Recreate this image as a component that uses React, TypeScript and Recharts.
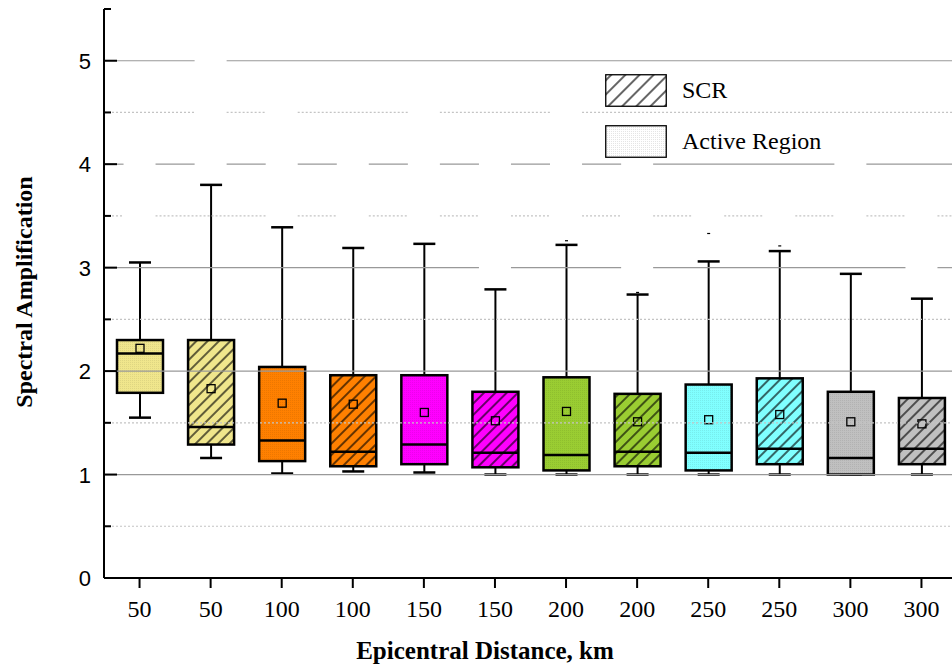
import { ComposedChart, Bar, XAxis, YAxis, ReferenceLine, Legend } from 'recharts';

// Box plot: spectral amplification vs epicentral distance, SCR vs active region
const distances = ['50', '50', '100', '100', '150', '150', '200', '200', '250', '250', '300', '300'];
const regions = ['Active Region', 'SCR', 'Active Region', 'SCR', 'Active Region', 'SCR',
  'Active Region', 'SCR', 'Active Region', 'SCR', 'Active Region', 'SCR'];
const fillColors = ['#F0E68C', '#F0E68C', '#FF8000', '#FF8000', '#FF00FF', '#FF00FF',
  '#9ACD32', '#9ACD32', '#80FFFF', '#80FFFF', '#C0C0C0', '#C0C0C0'];

const lowerWhisker = [1.55, 1.16, 1.01, 1.03, 1.02, 1.0, 1.0, 1.0, 1.0, 1.0, 1.0, 1.0];
const lowerQuartile = [1.79, 1.29, 1.13, 1.08, 1.1, 1.07, 1.04, 1.08, 1.04, 1.1, 1.0, 1.1];
const medians = [2.17, 1.46, 1.33, 1.22, 1.29, 1.21, 1.19, 1.22, 1.21, 1.25, 1.16, 1.25];
const upperQuartile = [2.3, 2.3, 2.04, 1.96, 1.96, 1.8, 1.94, 1.78, 1.87, 1.93, 1.8, 1.74];
const upperWhisker = [3.05, 3.8, 3.39, 3.19, 3.23, 2.79, 3.22, 2.74, 3.06, 3.16, 2.94, 2.7];
const means = [2.22, 1.83, 1.69, 1.68, 1.6, 1.52, 1.61, 1.51, 1.53, 1.58, 1.51, 1.49];
// tiny max markers that show above a few whiskers
const maxMarks: (number | null)[] = [null, null, null, null, null, null, 3.26, 2.76, 3.33, 3.21, null, null];

const yTicks = [0, 0.5, 1, 1.5, 2, 2.5, 3, 3.5, 4, 4.5, 5, 5.5];
const majorGrid = [1, 2, 3, 4, 5];
const minorGrid = [0.5, 1.5, 2.5, 3.5, 4.5];
// gridlines are broken behind some of the boxes (index of the box column)
const gridGaps: Record<string, number[]> = {
  '5': [1],
  '4.5': [1, 2, 4, 6],
  '4': [0, 1, 2, 3, 4, 5, 6, 7, 10],
  '3.5': [0, 2, 3, 4, 5, 6, 7, 8, 9, 10, 11],
  '3': [5, 7, 11],
};
const legendItems = ['SCR', 'Active Region'];

const SERIF = '"Liberation Serif", "Times New Roman", serif';
const SANS = '"Liberation Sans", Arial, sans-serif';

const data = distances.map((d, i) => ({
  key: i,
  distance: d,
  scr: regions[i] === 'SCR',
  color: fillColors[i],
  range: [lowerWhisker[i], upperWhisker[i]],
  q1: lowerQuartile[i],
  median: medians[i],
  q3: upperQuartile[i],
  mean: means[i],
  mark: maxMarks[i],
}));

function BoxShape(props: any) {
  const { x, y, width, height, payload, index } = props;
  const [lo, hi] = payload.range;
  const top = Math.min(y, y + height);
  const span = Math.abs(height);
  const py = (v: number) => top + (span * (hi - v)) / (hi - lo);
  const cx = x + width / 2;
  const boxTop = py(payload.q3);
  const boxBottom = py(payload.q1);
  const patId = `box-pat-${index}`;
  return (
    <g>
      <defs>
        {payload.scr ? (
          <pattern id={patId} width={8} height={8} patternUnits="userSpaceOnUse" patternTransform="rotate(45)">
            <line x1={4} y1={0} x2={4} y2={8} stroke="#000" strokeWidth={1.2} />
          </pattern>
        ) : (
          <pattern id={patId} width={2} height={2} patternUnits="userSpaceOnUse">
            <rect width={1} height={1} fill="#000" fillOpacity={0.07} />
          </pattern>
        )}
      </defs>
      <line x1={cx} x2={cx} y1={py(hi)} y2={boxTop} stroke="#000" strokeWidth={2} />
      <line x1={cx} x2={cx} y1={boxBottom} y2={py(lo)} stroke="#000" strokeWidth={2} />
      <line x1={cx - 11} x2={cx + 11} y1={py(hi)} y2={py(hi)} stroke="#000" strokeWidth={2.5} />
      <line x1={cx - 11} x2={cx + 11} y1={py(lo)} y2={py(lo)} stroke="#000" strokeWidth={2.5} />
      <rect x={x} y={boxTop} width={width} height={boxBottom - boxTop} fill={payload.color} />
      <rect x={x} y={boxTop} width={width} height={boxBottom - boxTop}
        fill={`url(#${patId})`} stroke="#000" strokeWidth={2.5} />
      <line x1={x} x2={x + width} y1={py(payload.median)} y2={py(payload.median)} stroke="#000" strokeWidth={2.5} />
      <rect x={cx - 4} y={py(payload.mean) - 4} width={8} height={8} fill="none" stroke="#000" strokeWidth={1.3} />
      {payload.mark != null && (
        <line x1={cx - 1.5} x2={cx + 1.5} y1={py(payload.mark)} y2={py(payload.mark)} stroke="#000" strokeWidth={1.2} />
      )}
    </g>
  );
}

const gridShape = (gaps: number[], stroke: string, dash?: string) => (p: any) => {
  const { x1, x2, y1 } = p;
  const band = (x2 - x1) / distances.length;
  const half = 16;
  const segs: [number, number][] = [];
  let start = x1;
  gaps.forEach((g) => {
    const c = x1 + band * (g + 0.5);
    segs.push([start, c - half]);
    start = c + half;
  });
  segs.push([start, x2]);
  return (
    <g>
      {segs.map(([a, b], k) => (
        <line key={k} x1={a} x2={b} y1={y1} y2={y1} stroke={stroke} strokeWidth={1.2} strokeDasharray={dash} />
      ))}
    </g>
  );
};

function YTick(props: any) {
  const { x, y, payload } = props;
  const v = payload.value;
  const major = Number.isInteger(v) && v <= 5;
  const ax = x + 13;
  return (
    <g>
      <line x1={ax} x2={ax + (major ? 13 : 7)} y1={y} y2={y} stroke="#000" strokeWidth={2} />
      {major && (
        <text x={x} y={y} dy={8} textAnchor="end" fontFamily={SANS} fontSize={22} fill="#000">{v}</text>
      )}
    </g>
  );
}

function XTick(props: any) {
  const { x, y, payload } = props;
  return (
    <text x={x} y={y} dy={27} textAnchor="middle" fontFamily={SERIF} fontSize={24} fill="#000">
      {distances[payload.value]}
    </text>
  );
}

function LegendContent() {
  return (
    <div style={{ fontFamily: SERIF, fontSize: 24, color: '#000' }}>
      {legendItems.map((item, i) => (
        <div key={item} style={{ display: 'flex', alignItems: 'center', height: 33, marginBottom: i === 0 ? 18 : 0 }}>
          <svg width={62} height={33}>
            <defs>
              <pattern id="lg-hatch" width={10} height={10} patternUnits="userSpaceOnUse" patternTransform="rotate(45)">
                <line x1={5} y1={0} x2={5} y2={10} stroke="#000" strokeWidth={1.2} />
              </pattern>
              <pattern id="lg-dots" width={2} height={2} patternUnits="userSpaceOnUse">
                <rect width={1} height={1} fill="#000" fillOpacity={0.1} />
              </pattern>
            </defs>
            <rect x={0.75} y={0.75} width={60.5} height={31.5} fill="#fff" />
            <rect x={0.75} y={0.75} width={60.5} height={31.5}
              fill={item === 'SCR' ? 'url(#lg-hatch)' : 'url(#lg-dots)'} stroke="#000" strokeWidth={1.3} />
          </svg>
          <span style={{ marginLeft: 15 }}>{item}</span>
        </div>
      ))}
    </div>
  );
}

export default function App() {
  return (
    <div style={{ position: 'absolute', left: 0, top: 0, width: 952, height: 668, overflow: 'hidden', background: '#fff' }}>
      <ComposedChart width={960} height={668} data={data} margin={{ top: 9, right: 3, bottom: 0, left: 0 }}>
        {minorGrid.map((v) => (
          <ReferenceLine key={`mn-${v}`} y={v} shape={gridShape(gridGaps[String(v)] ?? [], '#c4c4c4', '2 2')} />
        ))}
        {majorGrid.map((v) => (
          <ReferenceLine key={`mj-${v}`} y={v} shape={gridShape(gridGaps[String(v)] ?? [], '#999')} />
        ))}
        <XAxis
          dataKey="key"
          type="category"
          height={90}
          tick={<XTick />}
          tickSize={10}
          tickMargin={2}
          tickLine={{ stroke: '#000', strokeWidth: 2 }}
          axisLine={{ stroke: '#000', strokeWidth: 2 }}
          interval={0}
          label={{
            content: () => (
              <text x={485} y={659} textAnchor="middle" fontFamily={SERIF} fontWeight="bold" fontSize={25} fill="#000">
                Epicentral Distance, km
              </text>
            ),
          }}
        />
        <YAxis
          type="number"
          domain={[0, 5.5]}
          ticks={yTicks}
          width={104}
          interval={0}
          tickSize={0}
          tickMargin={13}
          tickLine={false}
          tick={<YTick />}
          axisLine={{ stroke: '#000', strokeWidth: 2 }}
          label={{
            content: () => (
              <text transform="translate(32, 292) rotate(-90)" textAnchor="middle" fontFamily={SERIF}
                fontWeight="bold" fontSize={24} fill="#000">
                Spectral Amplification
              </text>
            ),
          }}
        />
        <Legend
          layout="horizontal"
          verticalAlign="middle"
          align="center"
          content={LegendContent}
          wrapperStyle={{ left: 605, top: 74, width: 300, height: 90 }}
        />
        <Bar dataKey="range" barSize={46} shape={BoxShape} isAnimationActive={false} />
      </ComposedChart>
    </div>
  );
}
